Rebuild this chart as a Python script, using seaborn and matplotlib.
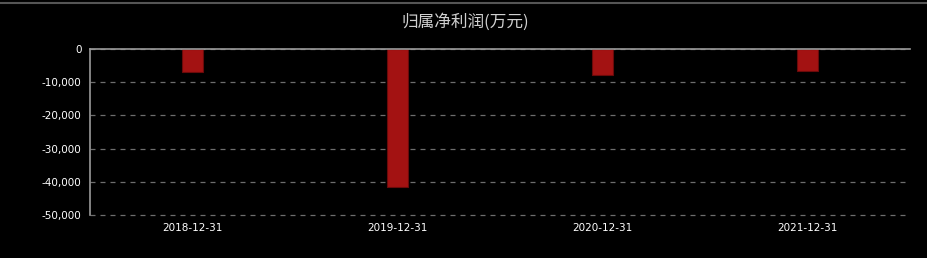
import matplotlib
matplotlib.use("Agg")
import matplotlib.pyplot as plt
import seaborn as sns
import pandas as pd
from matplotlib.lines import Line2D
from matplotlib.ticker import FuncFormatter

categories = ["2018-12-31", "2019-12-31", "2020-12-31", "2021-12-31"]
values = [-6900, -41600, -7800, -6700]
title = "归属净利润(万元)"

sns.set_theme(style="dark")
plt.rcParams['font.family'] = ['Noto Sans CJK SC', 'DejaVu Sans']

df = pd.DataFrame({"date": categories, "value": values})

fig = plt.figure(figsize=(9.27, 2.58), dpi=100, facecolor="black")
ax = fig.add_axes([90/927, 1-215/258, 820/927, (215-49)/258])
ax.set_facecolor("black")

sns.barplot(data=df, x="date", y="value", ax=ax, color="#a31212",
            width=0.1, edgecolor="#6a0a0a", linewidth=0.8, saturation=1)

ax.set_ylim(-50000, 0)
ax.set_yticks([0, -10000, -20000, -30000, -40000, -50000])
ax.yaxis.set_major_formatter(FuncFormatter(lambda v, p: f"{int(v):,}"))
ax.grid(axis="y", color="#6e6e6e", linestyle=(0, (4, 4)), linewidth=0.9)
ax.grid(axis="x", visible=False)
ax.set_axisbelow(True)
for gl in ax.yaxis.get_gridlines():
    gl.set_clip_on(False)
ax.set_xlabel("")
ax.set_ylabel("")
for s in ["right", "bottom"]:
    ax.spines[s].set_visible(False)
for s in ["left", "top"]:
    ax.spines[s].set_visible(True)
    ax.spines[s].set_color("#9a9a9a")
    ax.spines[s].set_linewidth(1.2)
ax.tick_params(axis="both", colors="white", labelsize=7.5, length=0, pad=6)
for lbl in ax.get_xticklabels() + ax.get_yticklabels():
    lbl.set_family(['DejaVu Sans'])
    lbl.set_color("white")

fig.text(465/927, 1-22/258, title, ha="center", va="center",
         color="#d0d0d0", fontsize=12)
fig.add_artist(Line2D([0, 1], [1-3/258, 1-3/258], color="#555555", linewidth=1.5,
                      transform=fig.transFigure))

fig.savefig("out.png", dpi=100, facecolor="black")
